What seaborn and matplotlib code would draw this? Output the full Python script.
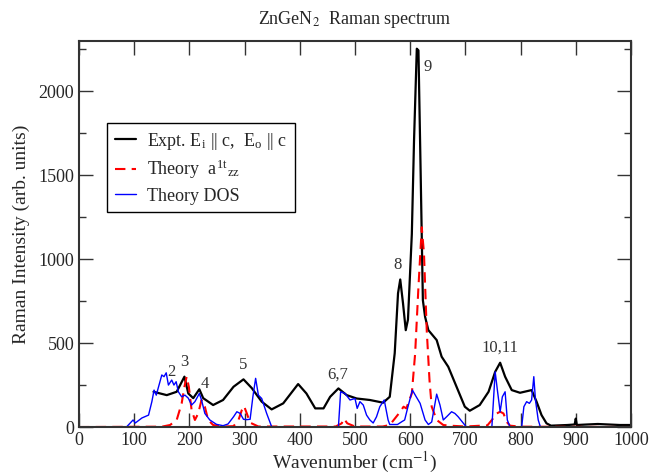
import matplotlib
matplotlib.use("Agg")
import matplotlib.pyplot as plt
from matplotlib.ticker import MultipleLocator
import seaborn as sns

expt_x = [135, 159, 177, 191, 198, 207, 218, 225, 243, 261, 280, 298, 313, 331, 349,
          370, 397, 412, 428, 443, 455, 470, 485, 503, 527, 551, 563, 572, 578, 582, 587,
          592, 596, 603, 607, 612, 615, 619, 623, 627, 633, 648, 657, 669, 684, 699, 708,
          726, 742, 754, 763, 772, 784, 799, 820, 829, 838, 847, 855, 870, 885, 898, 900,
          902, 920, 940, 960, 980, 1000]
expt_y = [210, 190, 210, 300, 200, 172, 225, 172, 131, 161, 240, 284, 232, 151, 105,
          141, 256, 200, 111, 111, 180, 230, 190, 170, 161, 145, 180, 440, 797, 879, 738,
          577, 640, 1150, 1708, 2254, 2244, 1512, 756, 657, 577, 518, 419, 359, 240, 121, 97,
          131, 210, 329, 383, 300, 220, 204, 220, 151, 71, 22, 8, 10, 12, 15, 50,
          12, 15, 18, 15, 12, 12]

# theory a_zz (red dashed)
theo_x = [0, 150, 165, 177, 186, 191, 195, 199, 204, 210, 216, 222, 228, 234, 243, 260,
          280, 289, 295, 299, 304, 310, 325, 465, 476, 480, 486, 500, 550, 563, 582, 588,
          593, 603, 609, 615, 621, 625, 630, 635, 639, 648, 660, 672, 700, 740, 748, 757,
          763, 769, 775, 781, 800, 1000]
theo_y = [0, 2, 12, 42, 141, 240, 300, 240, 101, 42, 81, 161, 121, 42, 12, 3,
          5, 42, 101, 125, 81, 26, 3, 3, 22, 50, 22, 3, 3, 12, 91, 121,
          111, 200, 438, 835, 1190, 1034, 577, 280, 121, 42, 12, 8, 3, 10, 42, 81,
          91, 81, 30, 8, 2, 0]

# theory DOS (blue)
dos_x = [0, 86, 98, 102, 114, 126, 132, 136, 140, 150, 154, 158, 162, 168, 172, 176,
         180, 186, 192, 198, 204, 210, 218, 222, 228, 237, 249, 261, 270, 280, 286, 292,
         298, 304, 310, 315, 320, 325, 331, 340, 349, 360, 465, 470, 474, 482, 491, 500,
         504, 509, 515, 521, 527, 533, 539, 545, 553, 560, 563, 577, 585, 590, 596, 604,
         611, 618, 627, 633, 639, 648, 654, 660, 666, 675, 681, 687, 696, 702, 748, 754,
         758, 763, 767, 772, 776, 781, 802, 806, 811, 816, 820, 824, 827, 832, 836, 1000]
dos_y = [0, 0, 42, 24, 54, 71, 151, 220, 190, 310, 300, 323, 250, 280, 250, 270,
         210, 180, 190, 172, 131, 151, 200, 161, 81, 42, 16, 8, 18, 61, 91, 81,
         46, 44, 46, 180, 290, 190, 170, 81, 2, 0, 0, 0, 210, 200, 161, 170,
         111, 151, 131, 71, 42, 24, 61, 121, 161, 42, 15, 15, 32, 42, 121, 220,
         180, 141, 42, 15, 30, 196, 131, 42, 61, 91, 81, 61, 24, 0, 0, 329,
         220, 91, 180, 210, 42, 0, 0, 121, 151, 141, 161, 300, 161, 42, 0, 0]

peak_labels = ["2", "3", "4", "5", "6,7", "8", "9", "10,11"]
peak_x = [168, 190, 228, 297, 469, 578, 632, 763]
peak_y = [327, 387, 256, 369, 315, 964, 2143, 470]

sns.set_style("ticks")
plt.rcParams['font.family'] = ['Liberation Serif', 'DejaVu Serif']
plt.rcParams['mathtext.fontset'] = 'stix'

fig = plt.figure(figsize=(6.65, 4.76), dpi=100)
ax = fig.add_axes([0.1188, 0.1029, 0.83, 0.811])

sns.lineplot(x=expt_x, y=expt_y, ax=ax, color="black", linewidth=1.6,
             label=r"Expt. E$_\mathregular{i}$ || c,  E$_\mathregular{o}$ || c")
sns.lineplot(x=theo_x, y=theo_y, ax=ax, color="red", linewidth=1.5,
             linestyle=(0, (5, 3)),
             label=r"Theory  a$^\mathregular{1t}$$_\mathregular{zz}$")
sns.lineplot(x=dos_x, y=dos_y, ax=ax, color="blue", linewidth=1.0,
             label="Theory DOS")

for lab, px, py in zip(peak_labels, peak_x, peak_y):
    ax.text(px, py, lab, fontsize=12, ha="center", va="center", color="#333333")

ax.set_xlim(0, 1000)
ax.set_ylim(0, 2300)
ax.xaxis.set_major_locator(MultipleLocator(100))
ax.yaxis.set_major_locator(MultipleLocator(500))
ax.yaxis.set_minor_locator(MultipleLocator(250))
ax.tick_params(which="both", direction="in", top=True, right=True, labelsize=13,
               width=1.0, color="#333333")
ax.tick_params(which="major", length=10)
ax.tick_params(which="minor", length=5)
for s in ax.spines.values():
    s.set_linewidth(1.5)
    s.set_color("#333333")

ax.set_xlabel(r"Wavenumber (cm$^{-1}$)", fontsize=14, labelpad=1)
ax.set_ylabel("Raman Intensity (arb. units)", fontsize=14, labelpad=6)
ax.set_title(r"ZnGeN$_2$  Raman spectrum", fontsize=13, pad=12)

leg = ax.legend(loc="upper left", bbox_to_anchor=(0.035, 0.81), fontsize=13,
                frameon=True, fancybox=False, edgecolor="black", framealpha=1,
                handlelength=1.2, handletextpad=0.6, borderpad=0.4,
                labelspacing=0.35)
leg.get_frame().set_linewidth(1.0)

fig.savefig("out.png", dpi=100)
